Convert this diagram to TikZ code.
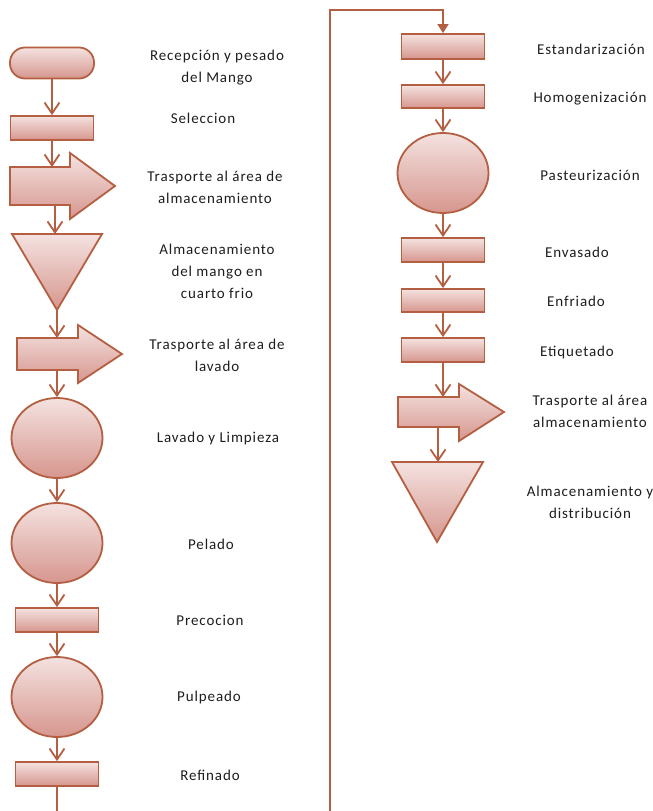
\documentclass[tikz,border=0pt]{standalone}
\usepackage{fontspec}
\setmainfont[LetterSpace=6]{Carlito}
\usetikzlibrary{arrows.meta,shapes.geometric}
\definecolor{ln}{RGB}{180,95,65}
\definecolor{ftop}{RGB}{244,226,224}
\definecolor{fbot}{RGB}{214,150,142}
\definecolor{txt}{RGB}{30,30,30}
\tikzset{
  shp/.style={draw=ln, line width=1.8pt, top color=ftop, bottom color=fbot},
  proc/.style={shp, rectangle, minimum width=83pt, minimum height=24pt, inner sep=0pt},
  oper/.style={shp, ellipse, minimum width=91pt, minimum height=80pt, inner sep=0pt},
  term/.style={shp, rectangle, rounded corners=15pt, minimum width=84pt, minimum height=31pt, inner sep=0pt},
  flow/.style={draw=ln, line width=1.8pt, -{Straight Barb[length=11pt,width=15pt,line width=1.8pt]}},
  link/.style={draw=ln, line width=1.5pt, -{Triangle[length=9pt,width=11pt]}},
  lbl/.style={font=\fontsize{15}{22}\selectfont, align=center, text=txt},
}
\begin{document}
\begin{tikzpicture}[x=1pt,y=-1pt]
\useasboundingbox[fill=white] (0,0) rectangle (653,811);

% ---------- left column ----------
\node[term] (rec) at (52,63) {};
\node[proc] (sel) at (52,128) {};
% block arrow 1
\path[shp] (10,167) -- (70,167) -- (70,153) -- (115,186) -- (70,219) -- (70,205) -- (10,205) -- cycle;
\coordinate (a1t) at (52,167);
\coordinate (a1b) at (55,205);
% triangle 1
\path[shp] (12,234) -- (102,234) -- (57,310) -- cycle;
\coordinate (t1t) at (55,234);
\coordinate (t1b) at (57,310);
% block arrow 2
\path[shp] (17,338) -- (78,338) -- (78,325) -- (122,354) -- (78,383) -- (78,370) -- (17,370) -- cycle;
\coordinate (a2t) at (57,338);
\coordinate (a2b) at (57,370);
\node[oper] (lav) at (57,438) {};
\node[oper] (pel) at (57,543) {};
\node[proc] (pre) at (57,620) {};
\node[oper] (pul) at (57,697) {};
\node[proc] (ref) at (57,774) {};

% ---------- right column ----------
\node[proc, minimum height=25pt] (est) at (443,46.5) {};
\node[proc, minimum height=23pt] (hom) at (443,96.5) {};
\node[oper] (pas) at (443,173) {};
\node[proc] (env) at (443,250) {};
\node[proc, minimum height=23pt] (enf) at (443,300.5) {};
\node[proc] (eti) at (443,350) {};
% block arrow 3
\path[shp] (398,397) -- (459,397) -- (459,384) -- (504,412) -- (459,441) -- (459,427) -- (398,427) -- cycle;
\coordinate (a3t) at (443,397);
\coordinate (a3b) at (438,427);
% triangle 2
\path[shp] (392,462) -- (483,462) -- (437,542) -- cycle;
\coordinate (t2t) at (438,462);

% ---------- connectors ----------
\draw[flow] (rec.south) -- (sel.north);
\draw[flow] (sel.south) -- (a1t);
\draw[flow] (a1b) -- (t1t);
\draw[flow] (t1b) -- (a2t);
\draw[flow] (a2b) -- (lav.north);
\draw[flow] (lav.south) -- (pel.north);
\draw[flow] (pel.south) -- (pre.north);
\draw[flow] (pre.south) -- (pul.north);
\draw[flow] (pul.south) -- (ref.north);
\coordinate (c1) at (57,818);
\coordinate (c2) at (330,818);
\coordinate (c3) at (330,10);
\coordinate (c4) at (443,10);
\draw[link] (ref.south) -- (c1) -- (c2) -- (c3) -- (c4) -- (est.north);
\draw[flow] (est.south) -- (hom.north);
\draw[flow] (hom.south) -- (pas.north);
\draw[flow] (pas.south) -- (env.north);
\draw[flow] (env.south) -- (enf.north);
\draw[flow] (enf.south) -- (eti.north);
\draw[flow] (eti.south) -- (a3t);
\draw[flow] (a3b) -- (t2t);

% ---------- labels ----------
\node[lbl] (l1) at (217,68) {Recepción y pesado\\del Mango};
\node[lbl] (l2) at (203,118) {Seleccion};
\node[lbl] (l3) at (215,187) {Trasporte al área de\\almacenamiento};
\node[lbl] (l4) at (217,271) {Almacenamiento\\del mango en\\cuarto frio};
\node[lbl] (l5) at (217,355) {Trasporte al área de\\lavado};
\node[lbl] (l6) at (218,438) {Lavado y Limpieza};
\node[lbl] (l7) at (211,544) {Pelado};
\node[lbl] (l8) at (210,620) {Precocion};
\node[lbl] (l9) at (209,697) {Pulpeado};
\node[lbl] (l10) at (210,775) {Refinado};
\node[lbl] (r1) at (591,49) {Estandarización};
\node[lbl] (r2) at (590,99) {Homogenización};
\node[lbl] (r3) at (590,175) {Pasteurización};
\node[lbl] (r4) at (577,252) {Envasado};
\node[lbl] (r5) at (576,301) {Enfriado};
\node[lbl] (r6) at (577,352) {Etiquetado};
\node[lbl] (r7) at (590,411) {Trasporte al área\\almacenamiento};
\node[lbl] (r8) at (590,502) {Almacenamiento y\\distribución};
\end{tikzpicture}
\end{document}
